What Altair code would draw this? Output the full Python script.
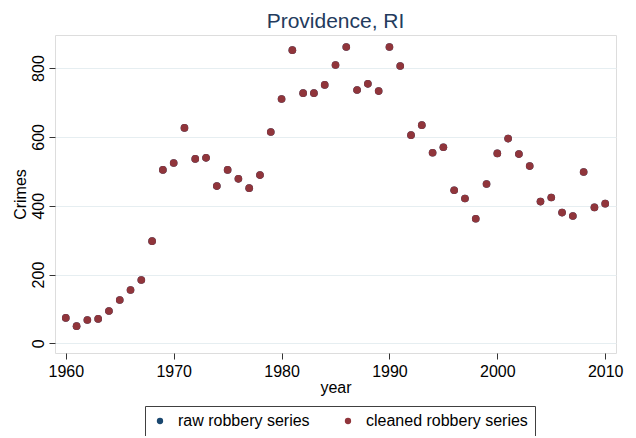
import altair as alt
import pandas as pd

years = list(range(1960, 2011))
cleaned_robbery = [74, 50, 68, 71, 94, 126, 155, 184, 297, 504,
                   524, 626, 536, 539, 457, 504, 478, 451, 489, 614,
                   710, 852, 727, 727, 751, 809, 861, 736, 754, 733,
                   861, 806, 605, 634, 554, 570, 445, 421, 362, 463,
                   552, 595, 550, 515, 412, 424, 380, 370, 498, 395, 406]
raw_robbery = list(cleaned_robbery)
series_names = ["raw robbery series", "cleaned robbery series"]
series_colors = ["#1a476f", "#90353b"]
x_ticks = [1960, 1970, 1980, 1990, 2000, 2010]
y_ticks = [0, 200, 400, 600, 800]

rows = []
for name, vals in zip(series_names, [raw_robbery, cleaned_robbery]):
    for yr, v in zip(years, vals):
        rows.append({"year": yr, "Crimes": v, "series": name})
df = pd.DataFrame(rows)

FONT = "Liberation Sans"

chart = alt.Chart(df).mark_circle(size=58, opacity=1).encode(
    x=alt.X("year:Q",
            scale=alt.Scale(domain=[1959, 2011], nice=False, zero=False),
            axis=alt.Axis(values=x_ticks, format="d", grid=False, domain=False,
                          tickSize=6, tickColor="#333333", labelFontSize=16,
                          labelPadding=4, labelColor="#000000", labelFont=FONT,
                          title="year", titleFontSize=16, titleFontWeight="normal",
                          titleFont=FONT, titleColor="#000000", titlePadding=0)),
    y=alt.Y("Crimes:Q",
            scale=alt.Scale(domain=[-28, 896], nice=False, zero=False),
            axis=alt.Axis(values=y_ticks, grid=True, gridColor="#e6eef1", gridWidth=1.2,
                          domain=False, tickSize=6, tickColor="#333333",
                          labelAngle=270, labelAlign="center", labelBaseline="bottom",
                          labelPadding=3, labelFontSize=16, labelColor="#000000",
                          labelFont=FONT, title="Crimes", titleFontSize=16,
                          titleFontWeight="normal", titleFont=FONT,
                          titleColor="#000000", titlePadding=2)),
    color=alt.Color("series:N",
                    scale=alt.Scale(domain=series_names, range=series_colors),
                    legend=alt.Legend(orient="none", legendX=90, legendY=371,
                                      direction="horizontal", title=None,
                                      strokeColor="#404040", fillColor="white",
                                      padding=7, columnPadding=30,
                                      labelFontSize=16, labelFont=FONT,
                                      labelColor="#000000", labelOffset=10,
                                      labelLimit=400,
                                      symbolSize=40, symbolType="circle",
                                      symbolStrokeWidth=0)),
).properties(
    width=561,
    height=318,
    title=alt.TitleParams("Providence, RI", fontSize=21, font=FONT,
                          fontWeight="normal", color="#233b5d",
                          anchor="middle", offset=3),
    padding={"left": 47, "top": 27, "right": 12, "bottom": 83},
    autosize=alt.AutoSizeParams(type="none"),
).configure_view(stroke=None).configure(background="white")

chart.save("out.html", embed_options={"renderer": "svg", "actions": False})
